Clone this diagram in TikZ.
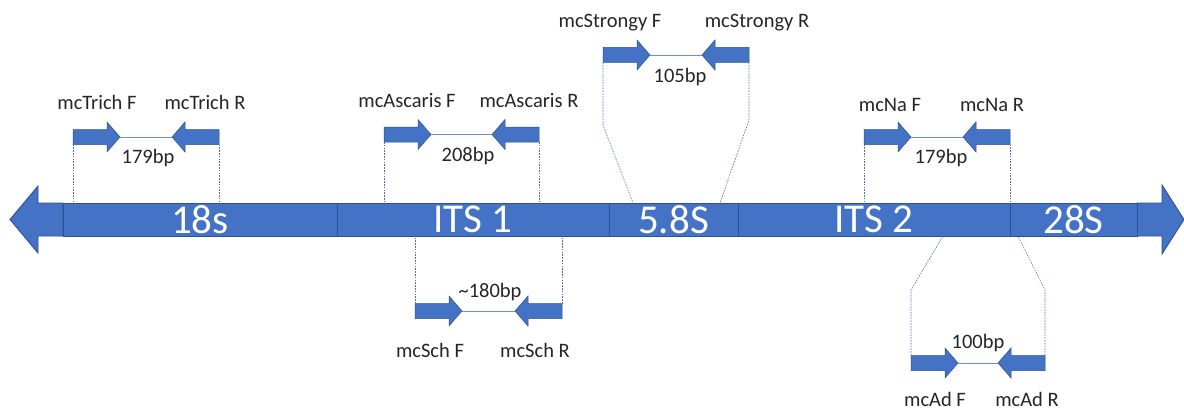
\documentclass[tikz,border=0pt]{standalone}
\usepackage{fontspec}
\setmainfont{Carlito}
\definecolor{fillblue}{HTML}{4472C4}
\definecolor{edgeblue}{HTML}{2F528F}
\definecolor{dashblue}{HTML}{4F6FB0}
\definecolor{linkblue}{HTML}{6F8FCF}
\definecolor{labeltext}{HTML}{262626}
\tikzset{
  barpart/.style={fill=fillblue, draw=edgeblue, line width=0.9pt},
  primerbody/.style={fill=fillblue, draw=edgeblue, line width=0.5pt},
  guideline/.style={draw=dashblue, line width=0.6pt, dash pattern=on 1.6pt off 1.2pt},
  linkline/.style={draw=linkblue, line width=0.9pt},
  smalllabel/.style={font=\fontsize{20.5}{24}\selectfont, text=labeltext, inner sep=0pt, anchor=base},
  seglabel/.style={barpart, font=\fontsize{41}{48}\selectfont, text=white, inner sep=0pt, minimum height=33pt},
  pics/primerF/.style={code={
    \path[primerbody] (0,-7.5) -- (34,-7.5) -- (34,-15) -- (47,0) -- (34,15) -- (34,7.5) -- (0,7.5) -- cycle;
    \coordinate (-tip) at (47,0);
    \coordinate (-foot) at (0,7.5);
    \coordinate (-head) at (0,-7.5);
  }},
  pics/primerR/.style={code={
    \path[primerbody] (0,-7.5) -- (-34,-7.5) -- (-34,-15) -- (-47,0) -- (-34,15) -- (-34,7.5) -- (0,7.5) -- cycle;
    \coordinate (-tip) at (-47,0);
    \coordinate (-foot) at (0,7.5);
    \coordinate (-head) at (0,-7.5);
  }}
}
\begin{document}
\begin{tikzpicture}[x=1pt,y=-1pt]
\useasboundingbox[fill=white] (0,0) rectangle (1184,412);

% main bar: end arrows
\path[barpart] (63,203) -- (38,203) -- (38,186) -- (10,219.5) -- (38,253) -- (38,236) -- (63,236) -- cycle;
\path[barpart] (1137,203) -- (1162,203) -- (1162,185) -- (1184,219.5) -- (1162,254) -- (1162,236) -- (1137,236) -- cycle;
% main bar segments
\node[seglabel, minimum width=274pt] (s18)  at (200,219.5) {18s};
\node[seglabel, minimum width=272pt] (its1) at (473,219.5) {ITS 1};
\node[seglabel, minimum width=129pt] (s58)  at (673.5,219.5) {5.8S};
\node[seglabel, minimum width=272pt] (its2) at (874,219.5) {ITS 2};
\node[seglabel, minimum width=127pt] (s28)  at (1073.5,219.5) {28S};

% mcTrich
\pic (tF) at (73,137) {primerF};
\pic (tR) at (219,137) {primerR};
\draw[linkline] (tF-tip) -- (tR-tip);
\draw[guideline] (tF-foot) -- (tF-foot |- s18.north);
\draw[guideline] (tR-foot) -- (tR-foot |- s18.north);
\node[smalllabel] (tFl) at (97,110) {mcTrich F};
\node[smalllabel] (tRl) at (205,110) {mcTrich R};
\node[smalllabel] (tbp) at (148,163) {179bp};

% mcAscaris
\pic (aF) at (384,134.5) {primerF};
\pic (aR) at (539,134.5) {primerR};
\draw[linkline] (aF-tip) -- (aR-tip);
\draw[guideline] (aF-foot) -- (aF-foot |- its1.north);
\draw[guideline] (aR-foot) -- (aR-foot |- its1.north);
\node[smalllabel] (aFl) at (407,107) {mcAscaris F};
\node[smalllabel] (aRl) at (529,107) {mcAscaris R};
\node[smalllabel] (abp) at (468,161) {208bp};

% mcStrongy
\pic (sF) at (603,55) {primerF};
\pic (sR) at (749,55) {primerR};
\draw[linkline] (sF-tip) -- (sR-tip);
\coordinate (sFk) at (603,125);
\coordinate (sRk) at (749,120);
\coordinate (sFb) at (633,203);
\coordinate (sRb) at (720,203);
\draw[guideline] (sF-foot) -- (sFk) -- (sFb);
\draw[guideline] (sR-foot) -- (sRk) -- (sRb);
\node[smalllabel] (sFl) at (610,28) {mcStrongy F};
\node[smalllabel] (sRl) at (757,28) {mcStrongy R};
\node[smalllabel] (sbp) at (680,82) {105bp};

% mcNa
\pic (nF) at (864,137) {primerF};
\pic (nR) at (1010,137) {primerR};
\draw[linkline] (nF-tip) -- (nR-tip);
\draw[guideline] (nF-foot) -- (nF-foot |- its2.north);
\draw[guideline] (nR-foot) -- (nR-foot |- its2.north);
\node[smalllabel] (nFl) at (890,111) {mcNa F};
\node[smalllabel] (nRl) at (992,111) {mcNa R};
\node[smalllabel] (nbp) at (941,163) {179bp};

% mcSch
\pic (cF) at (415,311) {primerF};
\pic (cR) at (562,311) {primerR};
\draw[linkline] (cF-tip) -- (cR-tip);
\draw[guideline] (cF-head) -- (cF-head |- its1.south);
\draw[guideline] (cR-head) -- (cR-head |- its1.south);
\node[smalllabel] (cbp) at (490,297) {\textasciitilde180bp};
\node[smalllabel] (cFl) at (430,357) {mcSch F};
\node[smalllabel] (cRl) at (535,357) {mcSch R};

% mcAd
\pic (dF) at (911,363) {primerF};
\pic (dR) at (1045,363) {primerR};
\draw[linkline] (dF-tip) -- (dR-tip);
\coordinate (dFk) at (911,290);
\coordinate (dRk) at (1045,290);
\coordinate (dFb) at (943,236);
\coordinate (dRb) at (1018,236);
\draw[guideline] (dF-head) -- (dFk) -- (dFb);
\draw[guideline] (dR-head) -- (dRk) -- (dRb);
\node[smalllabel] (dbp) at (978,348) {100bp};
\node[smalllabel] (dFl) at (935,406) {mcAd F};
\node[smalllabel] (dRl) at (1027,406) {mcAd R};
\end{tikzpicture}
\end{document}
